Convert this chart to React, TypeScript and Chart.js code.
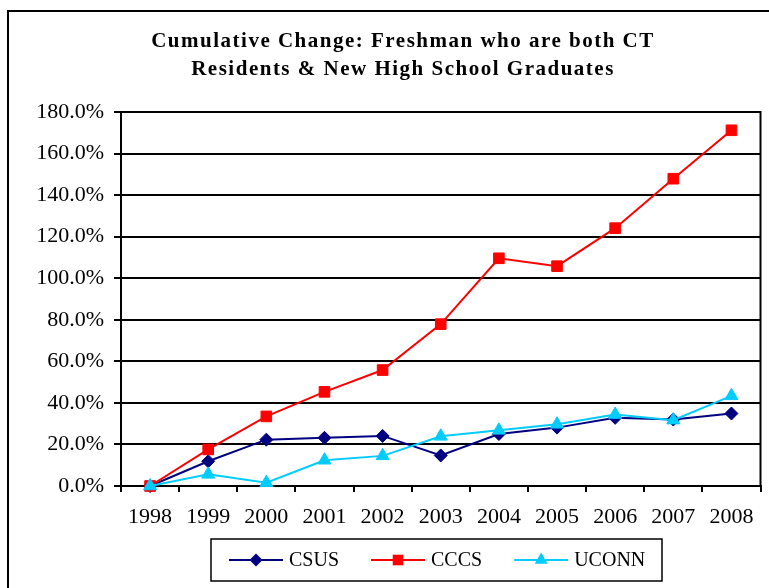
import React, { useEffect, useRef } from 'react';
import { Chart, registerables } from 'chart.js';

Chart.register(...registerables);

const years = ['1998', '1999', '2000', '2001', '2002', '2003', '2004', '2005', '2006', '2007', '2008'];
const csus = [0, 11.9, 22.3, 23.2, 24.1, 14.7, 25.0, 28.1, 32.8, 32.0, 34.9];
const cccs = [0, 17.6, 33.5, 45.3, 55.8, 77.9, 109.6, 105.8, 124.1, 147.9, 171.2];
const uconn = [0, 5.6, 1.6, 12.4, 14.5, 23.9, 26.8, 29.7, 34.4, 31.7, 43.4];
const seriesNames = ['CSUS', 'CCCS', 'UCONN'];
const titleLines = ['Cumulative Change: Freshman who are both CT', 'Residents & New High School Graduates'];
const yMin = 0;
const yMax = 180;
const yStep = 20;

const SERIF = '"Liberation Serif", "Times New Roman", serif';
const COLORS = ['#000080', '#FF0000', '#00CCFF'];
const STYLES = ['rectRot', 'rect', 'triangle'];
const RADII = [6.5, 7.5, 7.5];

function drawMarker(ctx: CanvasRenderingContext2D, style: string, x: number, y: number, r: number, color: string) {
  ctx.save();
  ctx.fillStyle = color;
  ctx.beginPath();
  if (style === 'rectRot') {
    ctx.moveTo(x, y - r);
    ctx.lineTo(x + r, y);
    ctx.lineTo(x, y + r);
    ctx.lineTo(x - r, y);
  } else if (style === 'rect') {
    const s = Math.SQRT1_2 * r;
    ctx.rect(x - s, y - s, 2 * s, 2 * s);
  } else {
    ctx.moveTo(x, y - r);
    ctx.lineTo(x + r * Math.sin(Math.PI / 3), y + r / 2);
    ctx.lineTo(x - r * Math.sin(Math.PI / 3), y + r / 2);
  }
  ctx.closePath();
  ctx.fill();
  ctx.restore();
}

const framePlugin = {
  id: 'frame',
  beforeDraw(chart: any) {
    const ctx = chart.ctx as CanvasRenderingContext2D;
    ctx.save();
    ctx.fillStyle = '#ffffff';
    ctx.fillRect(0, 0, chart.width, chart.height);
    ctx.restore();
  },
  afterDraw(chart: any) {
    const ctx = chart.ctx as CanvasRenderingContext2D;
    const area = chart.chartArea;
    ctx.save();
    // outer frame
    ctx.strokeStyle = '#000';
    ctx.lineWidth = 2;
    ctx.strokeRect(8, 11, chart.width + 20, chart.height + 20);
    // plot area right border
    ctx.beginPath();
    ctx.moveTo(area.right, area.top - 1);
    ctx.lineTo(area.right, area.bottom + 1);
    ctx.stroke();

    // title
    ctx.fillStyle = '#000';
    ctx.font = `bold 21px ${SERIF}`;
    (ctx as any).letterSpacing = '1.5px';
    ctx.textAlign = 'center';
    ctx.textBaseline = 'alphabetic';
    titleLines.forEach((t, i) => ctx.fillText(t, 403, 47 + i * 28));
    (ctx as any).letterSpacing = '0px';

    // legend
    ctx.lineWidth = 1.5;
    ctx.strokeStyle = '#000';
    ctx.strokeRect(211, 539, 451, 42);
    ctx.font = `20px ${SERIF}`;
    ctx.textAlign = 'left';
    ctx.textBaseline = 'middle';
    let x = 229;
    const ly = 560;
    chart.data.datasets.forEach((ds: any) => {
      ctx.strokeStyle = ds.borderColor;
      ctx.lineWidth = 2;
      ctx.beginPath();
      ctx.moveTo(x, ly);
      ctx.lineTo(x + 54, ly);
      ctx.stroke();
      drawMarker(ctx, ds.pointStyle, x + 27, ly, ds.pointRadius, ds.borderColor);
      ctx.fillStyle = '#000';
      ctx.fillText(ds.label, x + 60, ly + 1);
      const w = ctx.measureText(ds.label).width;
      x = x + 60 + w + 32;
    });
    ctx.restore();
  },
};

export default function App() {
  const ref = useRef<HTMLCanvasElement | null>(null);
  useEffect(() => {
    if (!ref.current) return;
    const seriesValues = [csus, cccs, uconn];
    const chart = new Chart(ref.current, {
      type: 'line',
      data: {
        labels: years,
        datasets: seriesValues.map((vals, i) => ({
          label: seriesNames[i],
          data: vals,
          borderColor: COLORS[i],
          backgroundColor: COLORS[i],
          pointBackgroundColor: COLORS[i],
          pointBorderColor: COLORS[i],
          pointBorderWidth: 1,
          pointStyle: STYLES[i] as any,
          pointRadius: RADII[i],
          borderWidth: 2,
          tension: 0,
          fill: false,
          clip: false as any,
          order: 3 - i,
        })),
      },
      options: {
        animation: false,
        responsive: false,
        devicePixelRatio: 1,
        layout: { padding: { top: 112, right: 7, bottom: 0, left: 0 } },
        plugins: {
          legend: { display: false },
          title: { display: false },
          tooltip: { enabled: false },
        },
        scales: {
          x: {
            type: 'category',
            offset: true,
            grid: {
              display: true,
              drawOnChartArea: false,
              drawTicks: true,
              tickLength: 6,
              color: '#000',
              lineWidth: 2,
              offset: true,
            },
            border: { display: true, color: '#000', width: 2 },
            ticks: {
              color: '#000',
              font: { family: SERIF, size: 22 },
              padding: 12,
              maxRotation: 0,
              autoSkip: false,
            },
            afterFit(scale: any) {
              scale.height = 102;
            },
          },
          y: {
            min: yMin,
            max: yMax,
            grid: {
              color: '#000',
              lineWidth: 2,
              tickLength: 7,
              drawTicks: true,
            },
            border: { display: true, color: '#000', width: 2 },
            ticks: {
              stepSize: yStep,
              color: '#000',
              font: { family: SERIF, size: 22 },
              padding: 10,
              callback: (v: any) => Number(v).toFixed(1) + '%',
            },
            afterFit(scale: any) {
              scale.width = 121;
            },
          },
        },
      },
      plugins: [framePlugin],
    });
    return () => chart.destroy();
  }, []);
  return (
    <div style={{ position: 'fixed', left: 0, top: 0, width: 769, height: 588, background: '#fff' }}>
      <canvas ref={ref} width={769} height={588} style={{ display: 'block', width: 769, height: 588 }} />
    </div>
  );
}
